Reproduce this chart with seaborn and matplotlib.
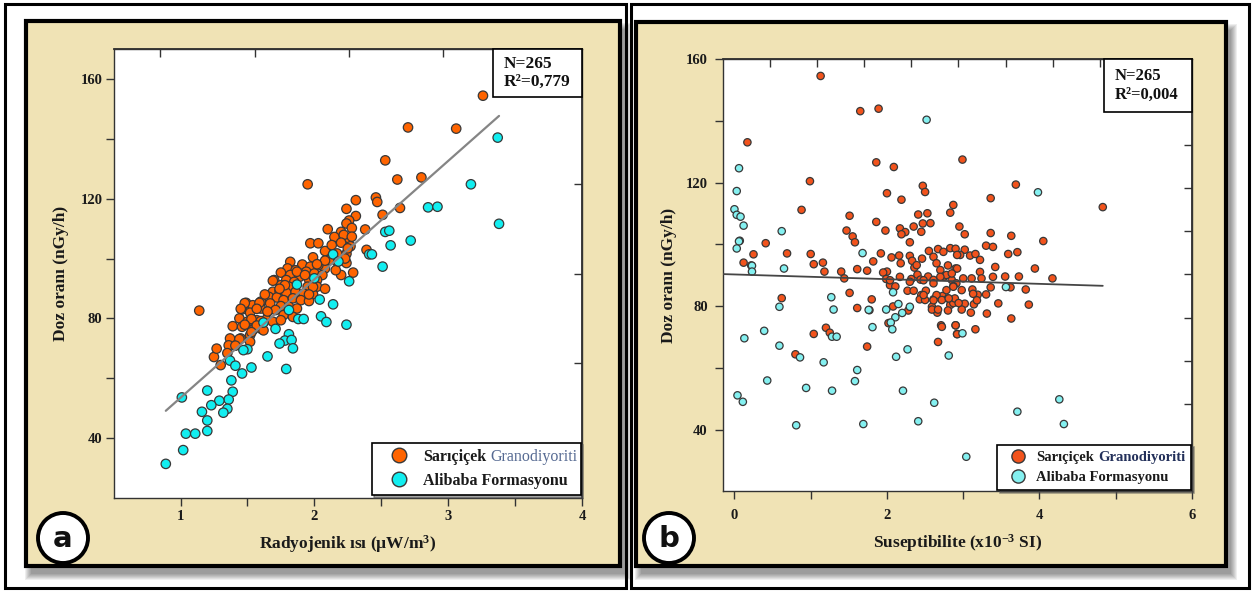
import numpy as np
import pandas as pd
import matplotlib
matplotlib.use("Agg")
import matplotlib.pyplot as plt
import seaborn as sns
from matplotlib.patches import Rectangle, Ellipse
from matplotlib.lines import Line2D

W, H = 1257, 592

GRUP_SAR = "Sarıçiçek Granodiyoriti"
GRUP_ALI = "Alibaba Formasyonu"

# (a) radyojenik ısı (µW/m3) - doz oranı (nGy/h)
a_sar = [
    (3.26, 154.4), (2.70, 143.8), (3.06, 143.4), (2.53, 132.8), (1.95, 124.8), (2.62, 126.4),
    (2.80, 127.1), (2.31, 119.5), (2.46, 120.4), (2.47, 118.9), (2.24, 116.6), (2.64, 116.9),
    (2.51, 114.6), (2.31, 114.2), (2.26, 112.7), (2.24, 111.7), (2.28, 110.2), (2.38, 109.7),
    (2.20, 108.9), (2.15, 107.2), (2.26, 106.7), (2.27, 104.1), (2.39, 102.9), (2.24, 101.6),
    (2.23, 99.3), (2.24, 98.5), (2.29, 95.3), (2.20, 94.5), (2.08, 102.5), (1.14, 82.6),
    (2.10, 109.8), (2.22, 107.9), (2.28, 107.3), (1.97, 105.1), (2.03, 105.1), (2.13, 104.5),
    (2.20, 105.3), (2.25, 103.4), (2.17, 101.7), (2.23, 100.0), (2.17, 98.9), (2.11, 99.5),
    (2.08, 96.7), (2.16, 96.1), (1.99, 100.4), (1.82, 98.9), (1.91, 98.0), (1.97, 97.3),
    (2.03, 97.8), (1.80, 96.7), (1.86, 96.1), (1.94, 95.6), (2.00, 95.0), (2.06, 94.5),
    (1.75, 95.3), (1.82, 94.5), (1.89, 93.9), (1.96, 93.0), (2.02, 92.8), (1.79, 92.8),
    (1.85, 92.2), (1.70, 92.8), (1.75, 91.1), (1.81, 90.6), (1.95, 90.6), (2.02, 90.6),
    (1.69, 88.9), (1.74, 89.2), (1.79, 88.6), (1.86, 88.9), (1.92, 88.3), (1.99, 88.1),
    (1.66, 87.2), (1.72, 87.0), (1.77, 86.1), (1.84, 86.7), (1.90, 86.1), (1.96, 85.8),
    (1.60, 85.6), (1.67, 85.0), (1.75, 84.1), (1.81, 83.9), (1.87, 83.3), (1.49, 85.2),
    (1.54, 84.4), (1.60, 83.3), (1.65, 82.2), (1.71, 82.8), (1.77, 81.1), (1.84, 80.5),
    (1.46, 83.0), (1.52, 81.9), (1.44, 80.0), (1.50, 78.9), (1.57, 79.4), (1.64, 79.6),
    (1.39, 77.4), (1.46, 77.2), (1.54, 76.1), (1.60, 76.6), (1.69, 78.9), (1.75, 79.4),
    (1.37, 73.3), (1.45, 73.3), (1.52, 74.4), (1.36, 71.0), (1.25, 67.1), (1.30, 64.4),
    (1.27, 69.9), (2.08, 99.3), (2.02, 98.1), (1.87, 95.6), (1.69, 92.6), (1.93, 94.5),
    (1.78, 91.1), (1.74, 89.9), (1.63, 88.0), (1.99, 90.5), (2.08, 89.9), (1.96, 88.0),
    (1.59, 85.2), (1.48, 85.1), (1.57, 83.2), (1.45, 83.2), (1.65, 82.3), (1.60, 79.1),
    (1.53, 79.8), (1.48, 77.9), (1.57, 77.6), (1.62, 76.0), (1.53, 75.4), (1.44, 73.1),
    (1.41, 70.9), (1.52, 72.2), (1.35, 68.4),
]
a_ali = [
    (3.37, 140.4), (3.17, 124.8), (3.38, 111.6), (2.85, 117.1), (2.92, 117.3), (2.53, 108.9),
    (2.56, 109.3), (2.72, 106.0), (2.57, 104.4), (2.41, 101.4), (2.43, 101.4), (2.14, 101.4),
    (2.18, 99.0), (2.51, 97.3), (2.26, 92.4), (1.87, 91.3), (2.00, 93.4), (2.04, 86.3),
    (2.14, 84.7), (1.81, 82.8), (2.05, 80.7), (2.09, 78.8), (2.24, 77.9), (1.88, 79.8),
    (1.92, 79.8), (1.62, 78.6), (1.71, 76.5), (1.81, 74.7), (1.78, 72.6), (1.74, 71.6),
    (1.83, 72.8), (1.84, 70.0), (1.65, 67.3), (1.79, 63.1), (1.50, 69.7), (1.47, 69.4),
    (1.53, 63.6), (1.37, 65.9), (1.41, 64.2), (1.46, 61.6), (1.38, 59.3), (1.39, 55.5),
    (1.20, 55.9), (1.36, 52.9), (1.29, 52.5), (1.35, 49.8), (1.32, 48.5), (1.23, 51.0),
    (1.16, 48.8), (1.20, 45.9), (1.20, 42.4), (1.04, 41.5), (1.11, 41.5), (1.01, 53.6),
    (1.02, 36.0), (0.89, 31.4),
]

# (b) suseptibilite (x10-3 SI) - doz oranı (nGy/h)
b_sar = [
    (1.13, 154.6), (1.65, 143.2), (1.89, 144.0), (0.17, 133.1), (1.86, 126.6), (2.09, 125.1),
    (0.99, 120.5), (2.47, 119.0), (2.50, 117.0), (2.00, 116.6), (2.19, 114.5), (0.88, 111.2),
    (1.51, 109.3), (1.86, 107.3), (1.47, 104.5), (1.55, 102.6), (1.58, 100.7), (0.41, 100.4),
    (1.98, 104.5), (2.17, 105.2), (2.24, 104.0), (2.19, 103.3), (2.30, 100.7), (2.35, 105.8),
    (2.41, 109.7), (2.53, 110.1), (2.57, 106.9), (2.47, 106.8), (2.45, 104.1), (0.25, 96.8),
    (0.69, 97.1), (1.00, 96.9), (0.12, 94.1), (0.22, 93.2), (1.04, 93.6), (1.16, 94.1),
    (1.18, 91.2), (1.40, 91.2), (1.44, 89.0), (1.61, 92.0), (1.74, 91.5), (1.82, 94.5),
    (1.92, 97.1), (2.00, 91.2), (2.06, 95.8), (2.18, 93.9), (2.16, 96.4), (2.30, 96.3),
    (2.33, 94.7), (2.36, 92.5), (2.46, 95.4), (2.55, 97.9), (2.61, 96.0), (2.67, 98.5),
    (2.74, 97.6), (2.83, 98.8), (2.90, 98.6), (2.65, 93.9), (2.70, 91.7), (2.80, 93.2),
    (2.90, 92.2), (2.75, 89.6), (2.85, 88.5), (2.91, 87.4), (1.95, 90.9), (1.99, 88.8),
    (2.04, 86.8), (2.11, 86.4), (2.32, 88.8), (2.40, 90.2), (2.44, 88.6), (2.54, 89.6),
    (2.61, 88.5), (2.27, 85.0), (2.35, 85.0), (2.45, 83.6), (2.51, 85.0), (2.43, 82.2),
    (2.50, 82.0), (2.59, 79.8), (2.66, 77.9), (2.61, 82.2), (2.65, 83.0), (2.73, 83.3),
    (2.80, 82.5), (2.83, 80.4), (2.87, 81.0), (2.80, 78.6), (2.71, 73.8), (2.90, 73.8),
    (2.92, 71.0), (2.67, 68.4), (0.62, 82.6), (1.51, 84.3), (1.61, 79.4), (1.80, 82.2),
    (1.77, 78.7), (2.08, 79.9), (2.02, 74.5), (2.28, 78.6), (1.20, 73.0), (1.25, 71.4),
    (1.04, 71.0), (1.74, 66.9), (0.80, 64.4),
    (2.99, 127.5), (3.69, 119.4), (3.36, 115.0), (4.83, 112.1), (2.87, 112.8), (2.83, 110.3),
    (2.95, 105.8), (3.36, 103.7), (3.02, 103.3), (3.63, 102.8), (4.05, 101.1), (3.30, 99.6),
    (3.39, 99.2), (3.02, 98.3), (2.96, 96.6), (3.09, 96.4), (3.16, 96.9), (3.22, 95.0),
    (3.59, 96.9), (3.71, 97.5), (3.42, 92.7), (3.94, 92.2), (2.92, 92.2), (3.22, 91.1),
    (3.39, 89.5), (3.55, 89.6), (3.73, 89.6), (4.17, 89.0), (3.00, 89.0), (3.11, 89.0),
    (3.24, 89.0), (2.87, 86.5), (2.98, 85.2), (3.12, 85.4), (3.19, 83.7), (3.30, 83.8),
    (3.36, 86.1), (3.62, 86.1), (3.82, 85.4), (2.89, 82.5), (3.02, 80.8), (3.14, 80.6),
    (2.98, 78.9), (3.10, 77.9), (3.46, 80.9), (3.86, 80.5), (3.31, 77.6), (3.63, 76.0),
    (2.90, 73.8), (2.92, 70.9), (3.16, 72.5),
    (2.39, 93.3), (2.48, 88.4), (2.61, 87.4), (2.78, 85.2), (2.65, 83.6), (2.72, 82.0),
    (2.59, 78.9), (2.67, 78.9), (2.48, 83.6), (2.94, 81.0), (3.13, 84.0), (3.18, 81.9),
    (2.72, 73.3), (2.30, 87.9), (2.17, 89.5), (2.04, 88.4), (2.78, 90.1), (2.85, 90.6),
    (2.70, 89.5), (2.87, 86.3), (2.81, 82.5), (2.61, 81.9), (2.92, 96.6),
]
b_ali = [
    (2.52, 140.4), (0.06, 124.7), (0.03, 117.3), (0.00, 111.4), (0.03, 109.6), (0.08, 109.0),
    (0.12, 106.1), (0.62, 104.3), (0.07, 101.2), (0.06, 101.0), (0.03, 98.7), (1.68, 97.2),
    (0.23, 93.1), (0.23, 91.2), (0.65, 92.2), (2.08, 84.5), (0.59, 79.8), (1.27, 82.9),
    (1.30, 78.9), (1.76, 78.8), (1.99, 78.9), (2.15, 80.7), (2.20, 77.8), (2.30, 79.8),
    (2.11, 76.4), (2.05, 74.7), (2.07, 72.5), (1.81, 73.2), (0.13, 69.6), (0.39, 72.0),
    (0.59, 67.2), (1.28, 70.1), (1.34, 70.1), (0.86, 63.4), (1.17, 61.8), (1.61, 59.3),
    (1.58, 55.7), (2.12, 63.6), (2.27, 66.0), (2.81, 64.0), (0.43, 55.9), (0.94, 53.5),
    (1.28, 52.6), (2.21, 52.6), (0.04, 51.1), (0.11, 49.0), (2.62, 48.7), (0.81, 41.4),
    (1.69, 41.8), (2.41, 42.7), (3.98, 116.9), (3.56, 86.2), (2.99, 71.2), (4.26, 49.8),
    (3.71, 45.8), (4.32, 41.8), (3.04, 31.2),
]

a_n, a_r2 = "265", "0,779"
b_n, b_r2 = "265", "0,004"


def to_frame(sar, ali):
    rows = [(x, y, GRUP_SAR) for x, y in sar] + [(x, y, GRUP_ALI) for x, y in ali]
    return pd.DataFrame(rows, columns=["x", "y", "grup"])


def fig_box(x0, y0, x1, y1):
    """pixel box (top-left origin) -> figure fraction (x, y, w, h)"""
    return (x0 / W, 1 - y1 / H, (x1 - x0) / W, (y1 - y0) / H)


def add_rect(fig, box, **kw):
    x, y, w, h = fig_box(*box)
    fig.add_artist(Rectangle((x, y), w, h, transform=fig.transFigure, **kw))


def draw_frame(fig, outer, inner):
    add_rect(fig, outer, facecolor="white", edgecolor="black", lw=2.2, zorder=-10)
    x0, y0, x1, y1 = inner
    for i in range(7):
        add_rect(fig, (x0 + 5 - i, y0 + 8 - i, x1 + 5 + i, y1 + 8 + i),
                 facecolor="black", edgecolor="none", alpha=0.065, zorder=-9)
    add_rect(fig, inner, facecolor="#f0e3b5", edgecolor="black", lw=3, zorder=-8)


def panel_letter(fig, cx, cy, letter):
    fig.add_artist(Ellipse((cx / W, 1 - cy / H), 50 / W, 50 / H, transform=fig.transFigure,
                           facecolor="white", edgecolor="black", lw=2.8, zorder=20))
    fig.text(cx / W, 1 - cy / H - 0.002, letter, ha="center", va="center", fontsize=21,
             family="DejaVu Sans", fontweight="bold", color="#111111", zorder=21)


sns.set_theme(style="ticks")
plt.rcParams["font.family"] = ["Liberation Serif", "DejaVu Serif"]
plt.rcParams["font.weight"] = "bold"
plt.rcParams["mathtext.fontset"] = "custom"
plt.rcParams["mathtext.rm"] = "Liberation Serif:bold"
plt.rcParams["mathtext.it"] = "Liberation Serif:bold"
plt.rcParams["mathtext.bf"] = "Liberation Serif:bold"

fig = plt.figure(figsize=(W / 100, H / 100), dpi=100)
fig.patch.set_facecolor("white")

draw_frame(fig, (5, 4, 626, 588), (26, 21, 620, 566))
draw_frame(fig, (631, 4, 1249, 588), (636, 22, 1226, 566))

ax1 = fig.add_axes(fig_box(113.6, 49, 582, 498))
ax2 = fig.add_axes(fig_box(723, 59.3, 1192, 491.3))

panels = [
    dict(ax=ax1, df=to_frame(a_sar, a_ali), pal={GRUP_SAR: "#ff6400", GRUP_ALI: "#12eef0"},
         s=46, ms=10.5, line_c="#858585", line_w=1.6, xlim=(0.5, 4.0), ylim=(20, 170),
         xmaj=[1, 2, 3, 4], xmin=[1.5, 2.5, 3.5], ymaj=[40, 80, 120, 160], ymin=[60, 100, 140],
         top=np.arange(0.85, 3.8, 0.703), right=np.arange(35, 160, 30),
         xlabel="Radyojenik ısı (µW/m$^{3}$)", n=a_n, r2=a_r2, nfs=12.5,
         nbox=(0.811, 0.893), leg=(0.551, 0.006, 0.446, 0.112), hlen=2.6, lfs=11.5,
         gcol="#566a92", gweight="normal", xpad=3, ypad=2, xlpad=7, ylpad=8, extend=False),
    dict(ax=ax2, df=to_frame(b_sar, b_ali), pal={GRUP_SAR: "#f2531c", GRUP_ALI: "#84f0f0"},
         s=28, ms=9.5, line_c="#454545", line_w=1.3, xlim=(-0.15, 6.0), ylim=(20, 160),
         xmaj=[0, 2, 4, 6], xmin=[1, 3, 5], ymaj=[40, 80, 120, 160], ymin=[60, 100, 140],
         top=np.arange(0.47, 4.9, 0.617), right=np.arange(48.3, 135, 14.0),
         xlabel="Suseptibilite (x10$^{-3}$ SI)", n=b_n, r2=b_r2, nfs=12,
         nbox=(0.813, 0.878), leg=(0.584, 0.003, 0.414, 0.13), hlen=2.1, lfs=10.5,
         gcol="#23305a", gweight="bold", xpad=7, ypad=5, xlpad=7, ylpad=6, extend=True),
]

for p in panels:
    ax = p["ax"]
    df = p["df"]
    ax.set_facecolor("white")
    sns.scatterplot(data=df, x="x", y="y", hue="grup", palette=p["pal"], s=p["s"],
                    edgecolor="#383838", linewidth=0.9, legend=False, ax=ax, zorder=3)

    # least squares line through all samples
    k, b = np.polyfit(df["x"], df["y"], 1)
    x0 = p["xlim"][0] if p["extend"] else df["x"].min()
    xs = np.linspace(x0, df["x"].max(), 50)
    ax.plot(xs, k * xs + b, color=p["line_c"], lw=p["line_w"], zorder=4)

    ax.set_xlim(*p["xlim"])
    ax.set_ylim(*p["ylim"])
    ax.set_xticks(p["xmaj"])
    ax.set_xticks(p["xmin"], minor=True)
    ax.set_yticks(p["ymaj"])
    ax.set_yticks(p["ymin"], minor=True)
    ax.tick_params(axis="both", which="both", direction="out", length=6, width=1,
                   color="#333333", labelsize=10.5, labelcolor="#1a1a1a")
    ax.tick_params(axis="x", pad=p["xpad"])
    ax.tick_params(axis="y", pad=p["ypad"])
    for sp in ax.spines.values():
        sp.set_color("#333333")
        sp.set_linewidth(1.0)
        sp.set_visible(True)

    sec_x = ax.secondary_xaxis("top")
    sec_x.set_xticks(p["top"])
    sec_x.tick_params(direction="in", length=6, width=1, color="#333333", labeltop=False)
    sec_y = ax.secondary_yaxis("right")
    sec_y.set_yticks(p["right"])
    sec_y.tick_params(direction="in", length=6, width=1, color="#333333", labelright=False)

    ax.set_xlabel(p["xlabel"], fontsize=12.5, fontweight="bold", color="#1a1a1a",
                  labelpad=p["xlpad"])
    ax.set_ylabel("Doz oranı (nGy/h)", fontsize=12.5, fontweight="bold", color="#1a1a1a",
                  labelpad=p["ylpad"])

    # N / R2 box
    bx, by = p["nbox"]
    ax.add_patch(Rectangle((bx, by), 1 - bx, 1 - by, transform=ax.transAxes,
                           facecolor="white", edgecolor="black", lw=1.2, zorder=6,
                           clip_on=False))
    ax.text(bx + 0.022, (1 + by) / 2, f"N={p['n']}\nR²={p['r2']}", transform=ax.transAxes,
            ha="left", va="center", fontsize=p["nfs"], fontweight="bold", linespacing=1.2,
            color="#111111", zorder=7)

    handles = [
        Line2D([], [], ls="none", marker="o", markersize=p["ms"],
               markerfacecolor=p["pal"][GRUP_SAR], markeredgecolor="#383838",
               markeredgewidth=1, label="Sarıçiçek"),
        Line2D([], [], ls="none", marker="o", markersize=p["ms"],
               markerfacecolor=p["pal"][GRUP_ALI], markeredgecolor="#383838",
               markeredgewidth=1, label=GRUP_ALI),
    ]
    leg = ax.legend(handles=handles, loc="lower left", bbox_to_anchor=p["leg"], mode="expand",
                    frameon=True, fancybox=False, edgecolor="black", framealpha=1,
                    borderaxespad=0, borderpad=0.4, labelspacing=0.5,
                    handlelength=p["hlen"], handletextpad=0.2, shadow=True,
                    prop=dict(family="Liberation Serif", weight="bold", size=p["lfs"]))
    leg.get_frame().set_linewidth(1.2)
    leg.set_zorder(8)
    for t in leg.get_texts():
        t.set_color("#1a1a1a")
    ax.annotate("Granodiyoriti", xy=(1, 0), xycoords=leg.get_texts()[0],
                xytext=(3.2, 0), textcoords="offset points", ha="left", va="bottom",
                fontsize=p["lfs"], fontweight=p["gweight"], color=p["gcol"],
                family="Liberation Serif", zorder=9, annotation_clip=False)

panel_letter(fig, 63, 538, "a")
panel_letter(fig, 669, 538, "b")

fig.canvas.draw()
fig.savefig("out.png", dpi=100, facecolor="white")
